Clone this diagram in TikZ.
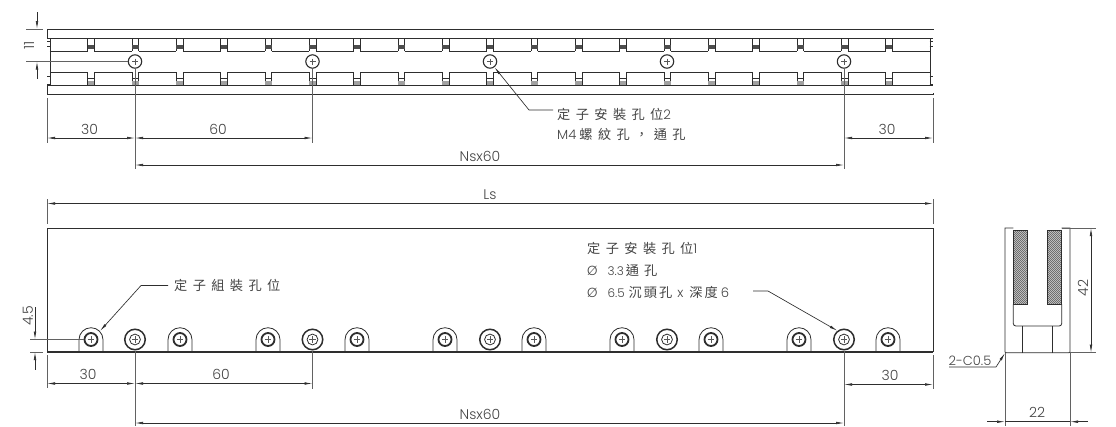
\documentclass[tikz,border=0pt]{standalone}
\usepackage{fontspec}
\setmainfont{Poppins Light}
\newfontfamily\cjk{Noto Sans CJK TC}
\usetikzlibrary{arrows.meta}
\definecolor{ink}{HTML}{2E2E2E}
\definecolor{txt}{HTML}{444444}
\newcommand{\gp}{\hspace{5.4pt}}
\newcommand{\cj}[1]{{\cjk #1}}
\tikzset{
  part/.style={draw=ink,line width=0.8pt},
  thin part/.style={draw=ink,line width=0.6pt},
  heavy/.style={draw=ink,line width=1.3pt},
  dimline/.style={draw=ink,line width=0.65pt},
  ext/.style={draw=ink!75,line width=0.7pt},
  tip/.style={-{Latex[length=8pt,width=2.6pt]}},
  both tips/.style={{Latex[length=8pt,width=2.6pt]}-{Latex[length=8pt,width=2.6pt]}},
  dimtext/.style={text=txt,font=\fontsize{14}{15}\selectfont,inner sep=0pt},
  labeltext/.style={text=txt,font=\fontsize{13.2}{14}\selectfont,inner sep=0pt,anchor=west},
}
\begin{document}
\begin{tikzpicture}[x=1pt,y=-1pt]
\useasboundingbox (0,0) rectangle (1116,426);
\fill[white] (0,0) rectangle (1116,426);

% ---------- top view
\draw[part] (47,38) -- (47,29) -- (933,29) -- (933,38);
\draw[part] (47,85) -- (47,94) -- (933,94) -- (933,85);
\draw[part] (47,38) -- (933,38);
\draw[part] (47,85) -- (933,85);
\draw[thin part] (50,51) -- (50,72) (930,51) -- (930,72);
% block outlines between the slots
\foreach \k in {0,...,19}{
  \pgfmathsetmacro{\xa}{46.6+44.33*\k+3.3}
  \pgfmathsetmacro{\xb}{46.6+44.33*(\k+1)-3.3}
  \draw[part] (\xa,51) -- (\xb,51);
  \draw[part] (\xa,72) -- (\xb,72);
  \draw[thin part] (\xa,38) -- (\xa,51) (\xb,38) -- (\xb,51);
  \draw[thin part] (\xa,72) -- (\xa,85) (\xb,72) -- (\xb,85);
}
% slots
\foreach \k in {1,...,19}{
  \pgfmathsetmacro{\xs}{46.6+44.33*\k}
  \fill[ink!85] (\xs-3.3,45) rectangle (\xs+3.3,48.5);
  \draw[ink,line width=0.5pt] (\xs-3.3,78.5) -- (\xs+3.3,78.5);
  \fill[ink!45] (\xs-3.3,81) rectangle (\xs+3.3,85);
}
\foreach \xs in {46.6,933}{
  \draw[thin part] (\xs-3.3,41) -- (\xs+3.3,41) (\xs-3.3,46) -- (\xs+3.3,46);
  \draw[thin part] (\xs-3.3,76) -- (\xs+3.3,76) (\xs-3.3,84) -- (\xs+3.3,84);
}
\fill[white] (43,30) rectangle (46.6,93);
\fill[white] (933.4,30) rectangle (937,93);
% mounting holes top
\foreach \xh/\nm in {135/ta,312.5/tb,490/tc,667/td,844/te}{
  \node[circle,draw=ink,line width=1.1pt,fill=white,minimum size=13.4pt,inner sep=0pt] (\nm) at (\xh,61.5) {};
  \draw[ink!80,line width=0.5pt] (\xh-3,61.5) -- (\xh+3,61.5) (\xh,58.5) -- (\xh,64.5);
}
% top view dimensions
\coordinate (e11a) at (26,29); \coordinate (e11b) at (43,29);
\draw[ext] (e11a) -- (e11b);
\draw[ext] (26,61.5) -- (ta.west);
\draw[dimline,{Latex[length=8pt,width=2.6pt]}-] (37,29) -- (37,12);
\draw[dimline,{Latex[length=8pt,width=2.6pt]}-] (37,61.5) -- (37,79);
\node[dimtext,rotate=90] (t11) at (29,45) {11};

\draw[ext] (47,98) -- (47,143);
\draw[ext] (ta.south) -- (135,169);
\draw[ext] (tb.south) -- (312.5,143);
\draw[ext] (te.south) -- (844,169);
\draw[ext] (933,98) -- (933,143);
\draw[dimline,both tips] (47,138) -- (135,138);
\draw[dimline,both tips] (135,138) -- (312.5,138);
\draw[dimline,both tips] (844,138) -- (933,138);
\draw[dimline,both tips] (135,165) -- (844,165);
\node[dimtext] (d1) at (89.5,129) {30};
\node[dimtext] (d2) at (218,129) {60};
\node[dimtext] (d3) at (887,129) {30};
\node[dimtext] (d4) at (480,156) {Nsx60};
% leader top
\coordinate (lb) at (529,110);
\coordinate (le) at (553,110);
\draw[dimline,tip] (le) -- (lb) -- (tc.-52);
\node[labeltext] (l1) at (557,114) {\cj{定\gp 子\gp 安\gp 裝\gp 孔\gp 位}2};
\node[labeltext] (l2) at (557,134) {M4\hspace{3pt}\cj{螺\gp 紋\gp 孔\gp ，\gp 通\gp 孔}};

% ---------- front view
\draw[dimline,both tips] (47,203.5) -- (933,203.5);
\draw[ext] (47,199) -- (47,224);
\draw[ext] (933,199) -- (933,224);
\node[dimtext] (ls) at (490,195) {Ls};
\draw[part] (47,352) -- (47,228.5) -- (933,228.5) -- (933,352);
\foreach \xh in {91,180,268,357,445,534,622,711,799,888}{
  \draw[part,fill=white] (\xh-12,352) -- (\xh-12,339.7) arc[start angle=180,end angle=360,radius=12] -- (\xh+12,352);
}
\draw[heavy] (47,352) -- (933,352);
\foreach \xh in {91,180,268,357,445,534,622,711,799,888}{
  \draw[draw=ink,line width=1.8pt] (\xh,339.5) circle[radius=6.5];
  \draw[ink!80,line width=0.5pt] (\xh-3.2,339.5) -- (\xh+3.2,339.5) (\xh,336.3) -- (\xh,342.7);
}
\foreach \xh/\nm in {135/ba,312.5/bb,490/bc,667/bd,844/be}{
  \node[circle,draw=ink,line width=1.5pt,fill=white,minimum size=20.5pt,inner sep=0pt] (\nm) at (\xh,339.5) {};
  \draw[ink,line width=0.8pt] (\xh,339.5) circle[radius=5.4];
  \draw[ink!80,line width=0.5pt] (\xh-3.2,339.5) -- (\xh+3.2,339.5) (\xh,336.3) -- (\xh,342.7);
}
% front dims
\draw[ext] (30,339.5) -- (84,339.5);
\draw[ext] (30,352) -- (43,352);
\draw[dimline,{Latex[length=8pt,width=2.6pt]}-] (35,339.5) -- (35,307);
\draw[dimline,{Latex[length=8pt,width=2.6pt]}-] (35,352) -- (35,370);
\node[dimtext,rotate=90] (d45) at (28,316) {4.5};
\draw[ext] (47,355) -- (47,388);
\draw[ext] (933,355) -- (933,389);
\draw[ext] (ba.south) -- (135,426);
\draw[ext] (bb.south) -- (312.5,389);
\draw[ext] (be.south) -- (844,426);
\draw[dimline,both tips] (47,383.5) -- (135,383.5);
\draw[dimline,both tips] (135,383.5) -- (312.5,383.5);
\draw[dimline,both tips] (844,384.5) -- (933,384.5);
\draw[dimline,both tips] (135,423) -- (844,423);
\node[dimtext] (f1) at (88,374.5) {30};
\node[dimtext] (f2) at (221,374.5) {60};
\node[dimtext] (f3) at (890,375.5) {30};
\node[dimtext] (f4) at (480,414) {Nsx60};
% leaders
\coordinate (mb) at (141,285.5);
\coordinate (me) at (168,285.5);
\draw[dimline,tip] (me) -- (mb) -- (100,331);
\node[labeltext] (m1) at (174,285) {\cj{定\gp 子\gp 組\gp 裝\gp 孔\gp 位}};
\node[labeltext] (r1) at (587,248) {\cj{定\gp 子\gp 安\gp 裝\gp 孔\gp 位}1};
\node[labeltext] (r2) at (587,270) {Ø\hspace{10pt}{\fontsize{12}{13}\selectfont 3.3}\hspace{2pt}\cj{通\hspace{5pt}孔}};
\node[labeltext] (r3) at (587,292) {Ø\hspace{10pt}{\fontsize{12}{13}\selectfont 6.5}\hspace{4pt}\cj{沉\hspace{2pt}頭\hspace{2pt}孔}\hspace{5pt}x\hspace{6pt}\cj{深\hspace{2pt}度}\hspace{3pt}6};
\coordinate (nb) at (768,291);
\coordinate (ne) at (753,291);
\draw[dimline,tip] (ne) -- (nb) -- (be.127);

% ---------- side view
\begin{scope}
  \fill[gray!35] (1013.3,230) rectangle (1027.7,304.3);
  \fill[gray!35] (1047.3,230) rectangle (1061.7,304.3);
  \clip (1013.3,230) rectangle (1027.7,304.3) (1047.3,230) rectangle (1061.7,304.3);
  \foreach \s in {-90,-88,...,70}{
    \draw[ink!80,line width=0.4pt] (1005+\s,310) -- (1005+\s+90,220);
  }
\end{scope}
\draw[thin part] (1013.3,230) rectangle (1027.7,304.3);
\draw[thin part] (1047.3,230) rectangle (1061.7,304.3);
\draw[heavy] (1013.3,304.3) -- (1027.7,304.3) (1047.3,304.3) -- (1061.7,304.3);
\draw[part] (1013.3,228) -- (1005,228) -- (1005,352) -- (1006,352.7) -- (1069,352.7) -- (1070,352) -- (1070,228) -- (1061.7,228);
\draw[part] (1013.3,304.3) -- (1013.3,323.5) arc[start angle=180,end angle=90,radius=2.5] -- (1059.2,326) arc[start angle=90,end angle=0,radius=2.5] -- (1061.7,304.3);
\draw[part] (1022.7,326) -- (1022.7,352.7) (1052.3,326) -- (1052.3,352.7);
% side dims
\draw[ext] (1061.7,228) -- (1096,228);
\draw[ext] (1070,352.7) -- (1096,352.7);
\draw[dimline,both tips] (1091,228) -- (1091,352.7);
\node[dimtext,rotate=90] (s42) at (1083,288) {42};
\draw[ext] (1005,353) -- (1005,426);
\draw[ext] (1070,353) -- (1070,426);
\draw[dimline,{Latex[length=8pt,width=2.6pt]}-] (1005,421.7) -- (987,421.7);
\draw[dimline,{Latex[length=8pt,width=2.6pt]}-] (1070,421.7) -- (1088,421.7);
\draw[dimline] (1005,421.7) -- (1070,421.7);
\node[dimtext] (s22) at (1037,412) {22};
\node[dimtext,anchor=west,font=\fontsize{13}{14}\selectfont] (c05) at (948.5,361) {2-C0.5};
\draw[dimline,tip] (949,367) -- (996,367) -- (1005,353);
\end{tikzpicture}
\end{document}
